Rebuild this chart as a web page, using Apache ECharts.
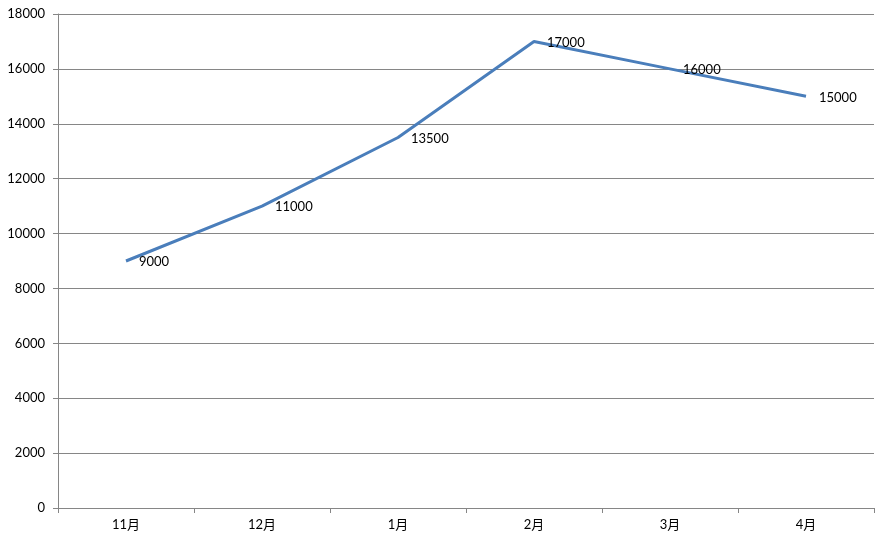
<!DOCTYPE html>
<html><head><meta charset="utf-8">
<script src="https://cdn.jsdelivr.net/npm/echarts@6/dist/echarts.min.js"></script>
<style>html,body{margin:0;padding:0;background:#fff}#c{width:887px;height:541px}</style>
</head><body><div id="c"></div>
<script>
const categories = ['11月','12月','1月','2月','3月','4月'];
const values = [9000, 11000, 13500, 17000, 16000, 15000];
const yTicks = [0, 2000, 4000, 6000, 8000, 10000, 12000, 14000, 16000, 18000];

const font = 'Lato, "Noto Sans CJK SC", sans-serif';
const chart = echarts.init(document.getElementById('c'));
chart.setOption({
  animation: false,
  backgroundColor: '#fff',
  grid: {left: 58, right: 13, top: 14, bottom: 33, containLabel: false},
  xAxis: {
    type: 'category', data: categories, boundaryGap: true,
    axisLine: {lineStyle: {color: '#868686', width: 1}},
    axisTick: {show: true, length: 5, lineStyle: {color: '#868686'}},
    axisLabel: {color: '#000', fontSize: 13, fontFamily: font, margin: 10},
    splitLine: {show: false}
  },
  yAxis: {
    type: 'value', min: yTicks[0], max: yTicks[yTicks.length-1], interval: 2000,
    axisLine: {show: true, lineStyle: {color: '#868686', width: 1}},
    axisTick: {show: true, length: 5, lineStyle: {color: '#868686'}},
    axisLabel: {color: '#000', fontSize: 13, fontFamily: font, margin: 13, formatter: v => String(v)},
    splitLine: {show: true, lineStyle: {color: '#868686', width: 1}}
  },
  series: [{
    type: 'line', data: values, showSymbol: true, symbol: 'circle', symbolSize: 2,
    itemStyle: {color: 'rgba(0,0,0,0)', borderWidth: 0},
    lineStyle: {color: '#4a7ebb', width: 3},
    label: {show: true, position: 'right', distance: 12, color: '#000', fontSize: 13, fontFamily: font, offset:[0,1],
      formatter: p => String(p.value)},
    emphasis: {disabled: true}
  }]
});
</script></body></html>
